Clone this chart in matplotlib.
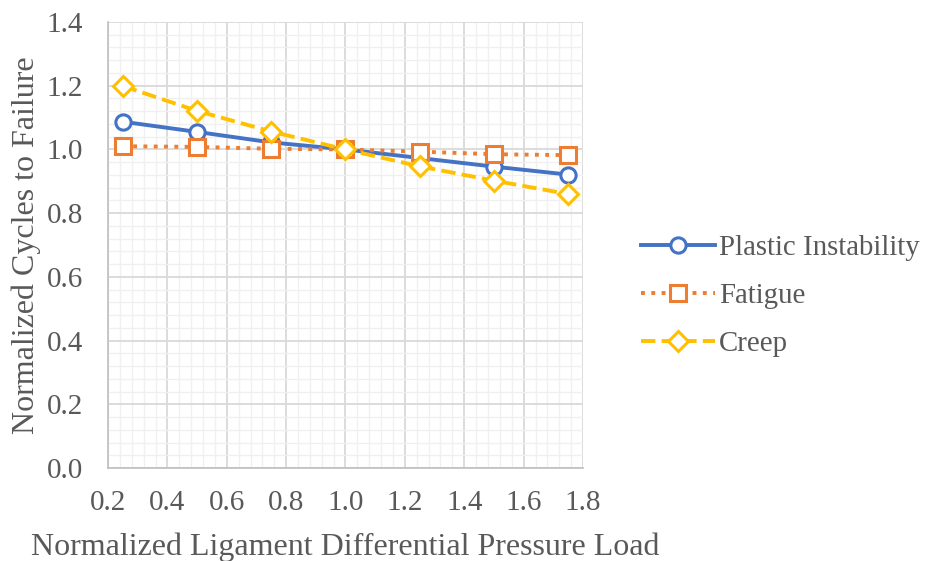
import matplotlib.pyplot as plt
import numpy as np

# Normalized load vs normalized cycles to failure for each failure mode
load = [0.25, 0.5, 0.75, 1.0, 1.25, 1.5, 1.75]
plastic = [1.087, 1.055, 1.022, 1.0, 0.973, 0.946, 0.921]
fatigue = [1.010, 1.008, 1.002, 1.0, 0.993, 0.985, 0.982]
creep = [1.199, 1.121, 1.056, 1.0, 0.947, 0.902, 0.860]

plt.rcParams['font.family'] = ['Liberation Serif', 'DejaVu Serif']
txt = '#595959'

fig = plt.figure(figsize=(9.26, 5.61), dpi=100)
ax = fig.add_axes([108 / 926, 1 - 468 / 561, (583 - 108) / 926, (468 - 22) / 561])

ax.plot(load, plastic, '-o', color='#4472C4', lw=2.8, ms=11, mfc='white', mew=2.2, label='Plastic Instability')
ax.plot(load, fatigue, ':s', color='#ED7D31', lw=2.8, ms=11, mfc='white', mew=2.2, label='Fatigue')
ax.plot(load, creep, '--D', color='#FFC000', lw=2.8, ms=10, mfc='white', mew=2.2, label='Creep')

ax.set_xlim(0.2, 1.8)
ax.set_ylim(0, 1.4)
ax.set_xticks(np.arange(0.2, 1.81, 0.2))
ax.set_yticks(np.arange(0, 1.41, 0.2))
ax.set_xticks(np.arange(0.2, 1.81, 0.04), minor=True)
ax.set_yticks(np.arange(0, 1.41, 0.04), minor=True)
ax.xaxis.set_major_formatter(plt.FormatStrFormatter('%.1f'))
ax.yaxis.set_major_formatter(plt.FormatStrFormatter('%.1f'))
ax.grid(True, which='major', color='#d9d9d9', lw=1.3)
ax.grid(True, which='minor', color='#f0f0f0', lw=1.0)
ax.set_axisbelow(True)
ax.tick_params(which='both', length=0, labelsize=21, colors=txt)
ax.tick_params(axis='y', pad=18)
ax.tick_params(axis='x', pad=16)
for s in ['top', 'right']:
    ax.spines[s].set_visible(False)
for s in ['left', 'bottom']:
    ax.spines[s].set_color('#bfbfbf')
    ax.spines[s].set_linewidth(1.2)

ax.set_xlabel('Normalized Ligament Differential Pressure Load', fontsize=23, color=txt, labelpad=12)
ax.set_ylabel('Normalized Cycles to Failure', fontsize=23, color=txt, labelpad=4)

leg = fig.legend(loc='center left', bbox_to_anchor=(641 / 926, 1 - 296 / 561), frameon=False,
                 fontsize=20.8, borderpad=0, borderaxespad=0,
                 handlelength=2.55, labelspacing=0.75, handletextpad=0.15)
for t in leg.get_texts():
    t.set_color(txt)

fig.savefig('out.png', dpi=100)
